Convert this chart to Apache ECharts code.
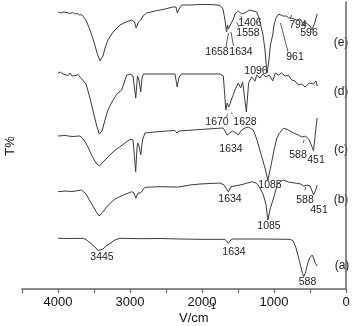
<!DOCTYPE html>
<html>
<head>
<meta charset="utf-8">
<script src="https://cdn.jsdelivr.net/npm/echarts@6/dist/echarts.min.js"></script>
<style>
  html, body { margin: 0; padding: 0; background: #fff; }
  #main { width: 354px; height: 326px; }
</style>
</head>
<body>
<div id="main"></div>
<script>
// FTIR spectra, [wavenumber cm-1, T% (arbitrary, stacked)]
var traceA = [
  [4000, 50.7], [3833, 50.5], [3649, 50.7], [3611, 49.5], [3556, 46.3], [3486, 42],
  [3445, 38.3], [3375, 40], [3333, 43], [3278, 45.7], [3208, 49], [3139, 50.7],
  [2861, 50.3], [2583, 50.5], [2306, 50], [2028, 49.7], [1680, 49.7], [1655, 48],
  [1634, 45.7], [1612, 47.5], [1590, 50], [1194, 50], [778, 49.7], [732, 48],
  [694, 41], [639, 25.7], [610, 17], [588, 12.3], [560, 17], [530, 26], [505, 31],
  [470, 34], [450, 31], [425, 25.7], [400, 23]
];
var traceB = [
  [4000, 97.3], [3903, 98], [3806, 97.5], [3671, 99], [3611, 95], [3556, 88], [3500, 81],
  [3458, 76], [3426, 73], [3389, 76], [3301, 84], [3208, 90], [3093, 94], [2976, 97.3],
  [2944, 96], [2920, 90.7], [2889, 96], [2871, 98], [2854, 96], [2837, 97.3], [2792, 101.7],
  [2583, 102.3], [2375, 102], [2351, 100.7], [2326, 102], [2167, 104], [2028, 105],
  [1750, 106], [1694, 104], [1657, 99.7], [1634, 97.3], [1600, 102.3], [1472, 104],
  [1380, 105.7], [1310, 107.3], [1240, 105.7], [1194, 101], [1148, 94], [1110, 84],
  [1085, 69], [1050, 81], [1000, 92.3], [950, 105.7], [871, 109], [801, 107], [685, 105.7],
  [625, 105], [588, 103], [540, 104], [500, 103], [470, 98], [451, 94], [420, 99], [400, 104]
];
var traceC = [
  [4000, 153], [3903, 153.5], [3806, 152.5], [3694, 153], [3639, 149], [3583, 142],
  [3528, 133], [3472, 126], [3426, 123], [3375, 127], [3301, 132.3], [3222, 138],
  [3139, 142.3], [3069, 146], [3000, 149.7], [2958, 149], [2921, 117.3], [2903, 141],
  [2893, 146], [2875, 143], [2851, 134], [2826, 149], [2792, 156], [2583, 157.5],
  [2375, 158.5], [2347, 156], [2319, 158], [2028, 159.5], [1819, 160.5], [1704, 161],
  [1650, 154], [1625, 153.3], [1580, 158], [1528, 156], [1496, 154], [1449, 159],
  [1403, 161], [1357, 162], [1287, 159], [1236, 149], [1171, 132.3], [1125, 121],
  [1085, 109], [1040, 124], [1000, 139], [960, 151], [925, 155.7], [871, 160.7],
  [833, 160], [801, 159], [731, 156], [662, 154], [615, 152], [588, 151], [560, 153],
  [510, 149], [451, 138.3], [430, 152], [410, 166], [400, 171]
];
var traceD = [
  [4000, 215.7], [3970, 217], [3944, 216.5], [3915, 214.5], [3889, 215.5], [3860, 213.5],
  [3833, 216], [3805, 213], [3778, 215], [3750, 213.5], [3722, 214.5], [3695, 212],
  [3671, 213], [3611, 205], [3556, 191], [3500, 174], [3458, 162], [3426, 155],
  [3389, 158], [3347, 169], [3306, 179], [3236, 189], [3181, 195], [3115, 199],
  [3083, 206], [3046, 214], [3000, 215], [2958, 213], [2920, 191], [2896, 213],
  [2875, 209], [2851, 197], [2833, 211], [2815, 215], [2583, 215], [2375, 215],
  [2345, 202], [2318, 212], [2282, 215], [2028, 215], [1750, 215], [1704, 213],
  [1685, 195], [1670, 179], [1650, 186], [1628, 182], [1542, 199], [1496, 206],
  [1463, 201], [1435, 207], [1384, 177], [1352, 206], [1310, 212], [1264, 208],
  [1240, 214], [1194, 211], [1157, 215], [1111, 212], [1065, 214], [1018, 208],
  [982, 216], [940, 214], [893, 216], [847, 213], [801, 214], [754, 209], [708, 208],
  [662, 204], [615, 205], [569, 202], [510, 206], [454, 205], [417, 208], [400, 203]
];
var traceE = [
  [4000, 277], [3960, 276], [3930, 277], [3903, 275.5], [3870, 276.5], [3833, 275.5],
  [3800, 276.5], [3764, 275], [3730, 275.5], [3700, 274], [3671, 274.3], [3611, 269],
  [3556, 259], [3500, 247], [3458, 236], [3417, 228.3], [3375, 233], [3347, 241],
  [3306, 249], [3236, 257], [3139, 264], [3056, 267], [2976, 269], [2938, 267],
  [2915, 261], [2882, 267], [2851, 269], [2819, 273], [2768, 276], [2653, 278],
  [2514, 280], [2403, 282], [2361, 282], [2343, 276], [2319, 280], [2282, 284],
  [2167, 284], [2028, 284.5], [1889, 284.5], [1778, 284], [1750, 283.5], [1708, 280],
  [1681, 269], [1658, 257], [1645, 264], [1634, 260], [1600, 265], [1583, 265],
  [1558, 271], [1542, 275], [1496, 278], [1472, 277], [1449, 275], [1431, 277],
  [1406, 276], [1389, 274], [1361, 278], [1333, 279], [1292, 278], [1240, 277],
  [1208, 271], [1181, 263], [1153, 254], [1125, 239], [1110, 226], [1096, 216],
  [1070, 229], [1050, 244], [1018, 254], [1000, 264], [972, 271], [961, 270],
  [935, 275], [917, 275], [875, 273], [833, 273], [794, 271], [760, 271], [736, 270],
  [685, 269], [639, 270], [610, 267], [596, 264], [569, 267], [542, 265], [500, 263],
  [472, 259], [450, 257], [430, 267], [400, 275]
];

var xTicks = [4000, 3000, 2000, 1000, 0];

var font = 'Arial, "Liberation Sans", sans-serif';

function spectrum(name, data) {
  return {
    name: name,
    type: 'line',
    data: data,
    showSymbol: false,
    silent: true,
    lineStyle: { color: '#3a3a3a', width: 1 }
  };
}

function note(text, x, y, size) {
  return {
    type: 'text', x: x, y: y, silent: true,
    style: { text: text, fill: '#222', font: (size || 10.5) + 'px ' + font, align: 'center', verticalAlign: 'middle' }
  };
}

function lead(x1, y1, x2, y2, dashed) {
  return {
    type: 'line', silent: true,
    shape: { x1: x1, y1: y1, x2: x2, y2: y2 },
    style: { stroke: '#333', lineWidth: 0.8, lineDash: dashed ? [2, 1.5] : null }
  };
}

var chart = echarts.init(document.getElementById('main'));
var option = {
  animation: false,
  grid: { left: 22, right: 8, top: 2, bottom: 37 },
  xAxis: {
    type: 'value',
    min: 0, max: 4500, interval: 500,
    inverse: true,
    axisLine: { lineStyle: { color: '#666', width: 1.5 } },
    axisTick: { show: true, inside: false, length: 4, lineStyle: { color: '#666', width: 1.2 } },
    axisLabel: {
      margin: 7, color: '#111', fontSize: 13, fontFamily: font,
      formatter: function (v) { return xTicks.indexOf(v) >= 0 ? String(v) : ''; }
    },
    splitLine: { show: false }
  },
  yAxis: {
    type: 'value',
    min: 0, max: 287,
    axisLine: { show: true, lineStyle: { color: '#666', width: 1.5 } },
    axisTick: { show: false },
    axisLabel: { show: false },
    splitLine: { show: false }
  },
  series: [
    spectrum('(a)', traceA),
    spectrum('(b)', traceB),
    spectrum('(c)', traceC),
    spectrum('(d)', traceD),
    spectrum('(e)', traceE)
  ],
  graphic: [
    // axis names
    { type: 'text', x: 10, y: 146, rotation: Math.PI / 2, silent: true,
      style: { text: 'T%', fill: '#111', font: '13px ' + font, align: 'center', verticalAlign: 'middle' } },
    { type: 'text', x: 179, y: 318, silent: true,
      style: { text: 'V/cm', fill: '#111', font: '13px ' + font, align: 'left', verticalAlign: 'middle' } },
    { type: 'text', x: 208, y: 307, silent: true,
      style: { text: '-1', fill: '#111', font: '9px ' + font, align: 'left', verticalAlign: 'middle' } },

    // trace names
    note('(e)', 341, 43, 12), note('(d)', 341, 92, 12), note('(c)', 341, 150, 12),
    note('(b)', 341, 200, 12), note('(a)', 342, 266, 12),

    // (e)
    note('1406', 250, 23), note('1558', 248, 33), note('1658', 217, 52), note('1634', 241, 52),
    note('1096', 256, 71), note('794', 298, 25), note('596', 309, 33), note('961', 295, 57),
    lead(226, 47, 228.5, 33), lead(233.5, 46, 231, 32), lead(239, 27, 236.5, 22),
    lead(241, 16, 242, 19.5), lead(290, 19, 291.7, 15), lead(304.5, 26, 305.5, 22),
    lead(288, 52, 280.5, 23),

    // (d)
    note('1670', 217, 122), note('1628', 245, 122),
    lead(226.7, 117.5, 227.3, 114.5), lead(231.3, 112.5, 233.5, 116.5, true),

    // (c)
    note('1634', 231, 149), note('588', 298, 155), note('451', 316, 160), note('1085', 270, 185),
    lead(303.3, 143, 304, 140),

    // (b)
    note('1634', 230, 199), note('588', 305, 200), note('451', 319, 210), note('1085', 269, 226),
    lead(305, 190.5, 305.5, 187),

    // (a)
    note('3445', 102, 257), note('1634', 234, 252), note('588', 307.5, 282)
  ]
};
chart.setOption(option);
</script>
</body>
</html>
